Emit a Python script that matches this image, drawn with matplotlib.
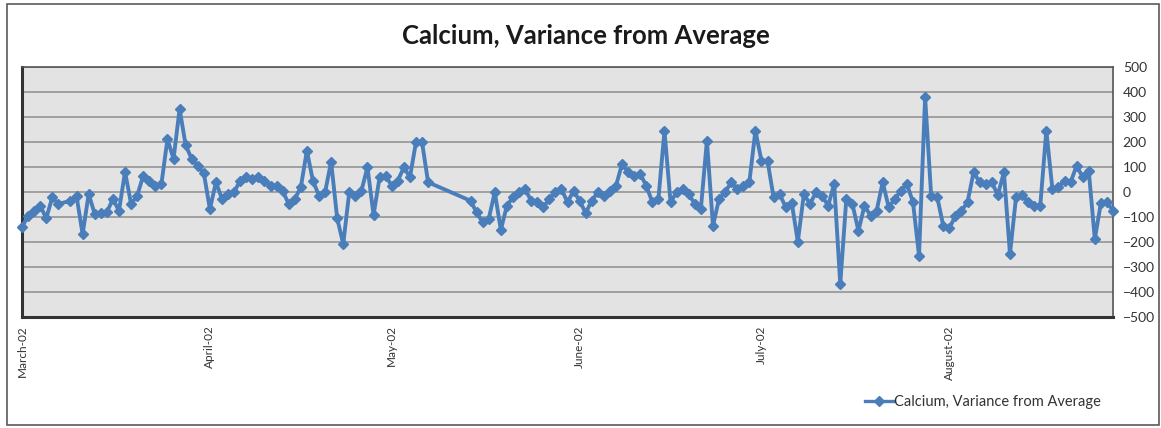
import matplotlib
matplotlib.use("Agg")
import matplotlib.pyplot as plt
import matplotlib.dates as mdates
from matplotlib.lines import Line2D
from matplotlib.patches import Rectangle
import pandas as pd

plt.rcParams["font.family"] = ["Lato", "DejaVu Sans"]

TITLE = "Calcium, Variance from Average"
SERIES = "Calcium, Variance from Average"
BLUE = "#4a7ebb"
YEAR = 2002

# day of month -> variance, one pair of lists per month (no readings 8-13 May)
MAR_DAYS = [1, 2, 3, 4, 5, 6, 7, 9, 10, 11, 12, 13, 14, 15, 16, 17, 18, 19, 20,
            21, 22, 23, 24, 25, 26, 27, 28, 29, 30, 31]
MAR_VALS = [-141, -95, -75, -55, -105, -21, -48, -35, -17, -168, -8, -88, -84,
            -81, -28, -75, 81, -48, -15, 65, 45, 25, 32, 212, 132, 332, 188,
            132, 105, 75]
APR_DAYS = list(range(1, 31))
APR_VALS = [-68, 39, -28, -8, 1, 45, 59, 52, 59, 45, 25, 25, 5, -48, -28, 19,
            165, 45, -15, -1, 121, -105, -208, 1, -15, 5, 99, -92, 59, 65]
MAY_DAYS = [1, 2, 3, 4, 5, 6, 7, 14, 15, 16, 17, 18, 19, 20, 21, 22, 23, 24,
            25, 26, 27, 28, 29, 30, 31]
MAY_VALS = [25, 45, 99, 59, 199, 199, 39, -35, -81, -121, -108, -1, -151, -55,
            -21, -1, 12, -35, -41, -61, -28, -1, 12, -41, 5]
JUN_DAYS = list(range(1, 31))
JUN_VALS = [-35, -84, -35, -1, -15, 5, 25, 112, 79, 65, 72, 25, -41, -28, 245,
            -41, -1, 12, -8, -48, -68, 205, -135, -28, -1, 39, 12, 25, 39, 245]
JUL_DAYS = list(range(1, 32))
JUL_VALS = [125, 125, -21, -8, -61, -44, -199, -8, -48, -1, -15, -55, 32, -368,
            -28, -48, -155, -55, -95, -75, 39, -61, -28, 5, 32, -41, -255, 379,
            -15, -21, -135]
AUG_DAYS = list(range(1, 29))
AUG_VALS = [-145, -95, -75, -41, 79, 39, 32, 39, -12, 79, -248, -21, -12, -41,
            -55, -55, 245, 12, 19, 45, 39, 105, 59, 85, -188, -44, -41, -75]

MONTHS = [(3, MAR_DAYS, MAR_VALS), (4, APR_DAYS, APR_VALS),
          (5, MAY_DAYS, MAY_VALS), (6, JUN_DAYS, JUN_VALS),
          (7, JUL_DAYS, JUL_VALS), (8, AUG_DAYS, AUG_VALS)]
Y_TICKS = list(range(-500, 501, 100))

W, H = 1161, 428


def build_series():
    dates, vals = [], []
    for m, days, v in MONTHS:
        dates += [pd.Timestamp(YEAR, m, d) for d in days]
        vals += v
    return dates, vals


def main():
    dates, vals = build_series()
    fig = plt.figure(figsize=(W / 100, H / 100), dpi=100)
    fig.patches.append(Rectangle((7 / W, 3 / H), 1152 / W, 421 / H,
                                 transform=fig.transFigure, fill=False,
                                 edgecolor="#5a5a5a", lw=1.2))

    ax = fig.add_axes([22 / W, 1 - 317 / H, 1091 / W, 250 / H])
    ax.set_facecolor("#e3e3e3")
    ax.plot(dates, vals, "-D", color=BLUE, lw=2.8, ms=5.5, mfc=BLUE, mec=BLUE,
            clip_on=False, zorder=3)

    ax.set_xlim(dates[0], dates[-1])
    ax.set_ylim(-500, 500)
    ax.set_yticks(Y_TICKS)
    ax.yaxis.tick_right()
    ax.grid(axis="y", color="#9a9a9a", lw=1.3)
    ax.set_axisbelow(True)
    ax.tick_params(axis="y", length=0, pad=7, labelsize=10, labelcolor="#333333")
    ax.xaxis.set_major_locator(mdates.MonthLocator())
    ax.xaxis.set_major_formatter(mdates.DateFormatter("%B-%y"))
    ax.tick_params(axis="x", length=0, pad=6, labelsize=8.5,
                   labelcolor="#333333", labelrotation=90)
    for lab in ax.get_xticklabels():
        lab.set_va("top")
    for side in ("left", "bottom"):
        ax.spines[side].set_color("#333333")
        ax.spines[side].set_linewidth(2.2)
    for side in ("top", "right"):
        ax.spines[side].set_color("#555555")
        ax.spines[side].set_linewidth(1.2)

    fig.text(586 / W, 1 - 36 / H, TITLE, ha="center", va="center",
             fontsize=18.5, fontweight="bold", color="#1a1a1a")

    handle = Line2D([], [], color=BLUE, lw=2.4, marker="D", ms=5)
    fig.legend(handles=[handle], labels=[SERIES], loc="center left",
               bbox_to_anchor=(852 / W, 1 - 402 / H), frameon=False,
               fontsize=10.5, handlelength=1.9, handletextpad=0.1,
               labelcolor="#333333")

    fig.savefig("out.png", dpi=100)
    plt.close(fig)


if __name__ == "__main__":
    main()
